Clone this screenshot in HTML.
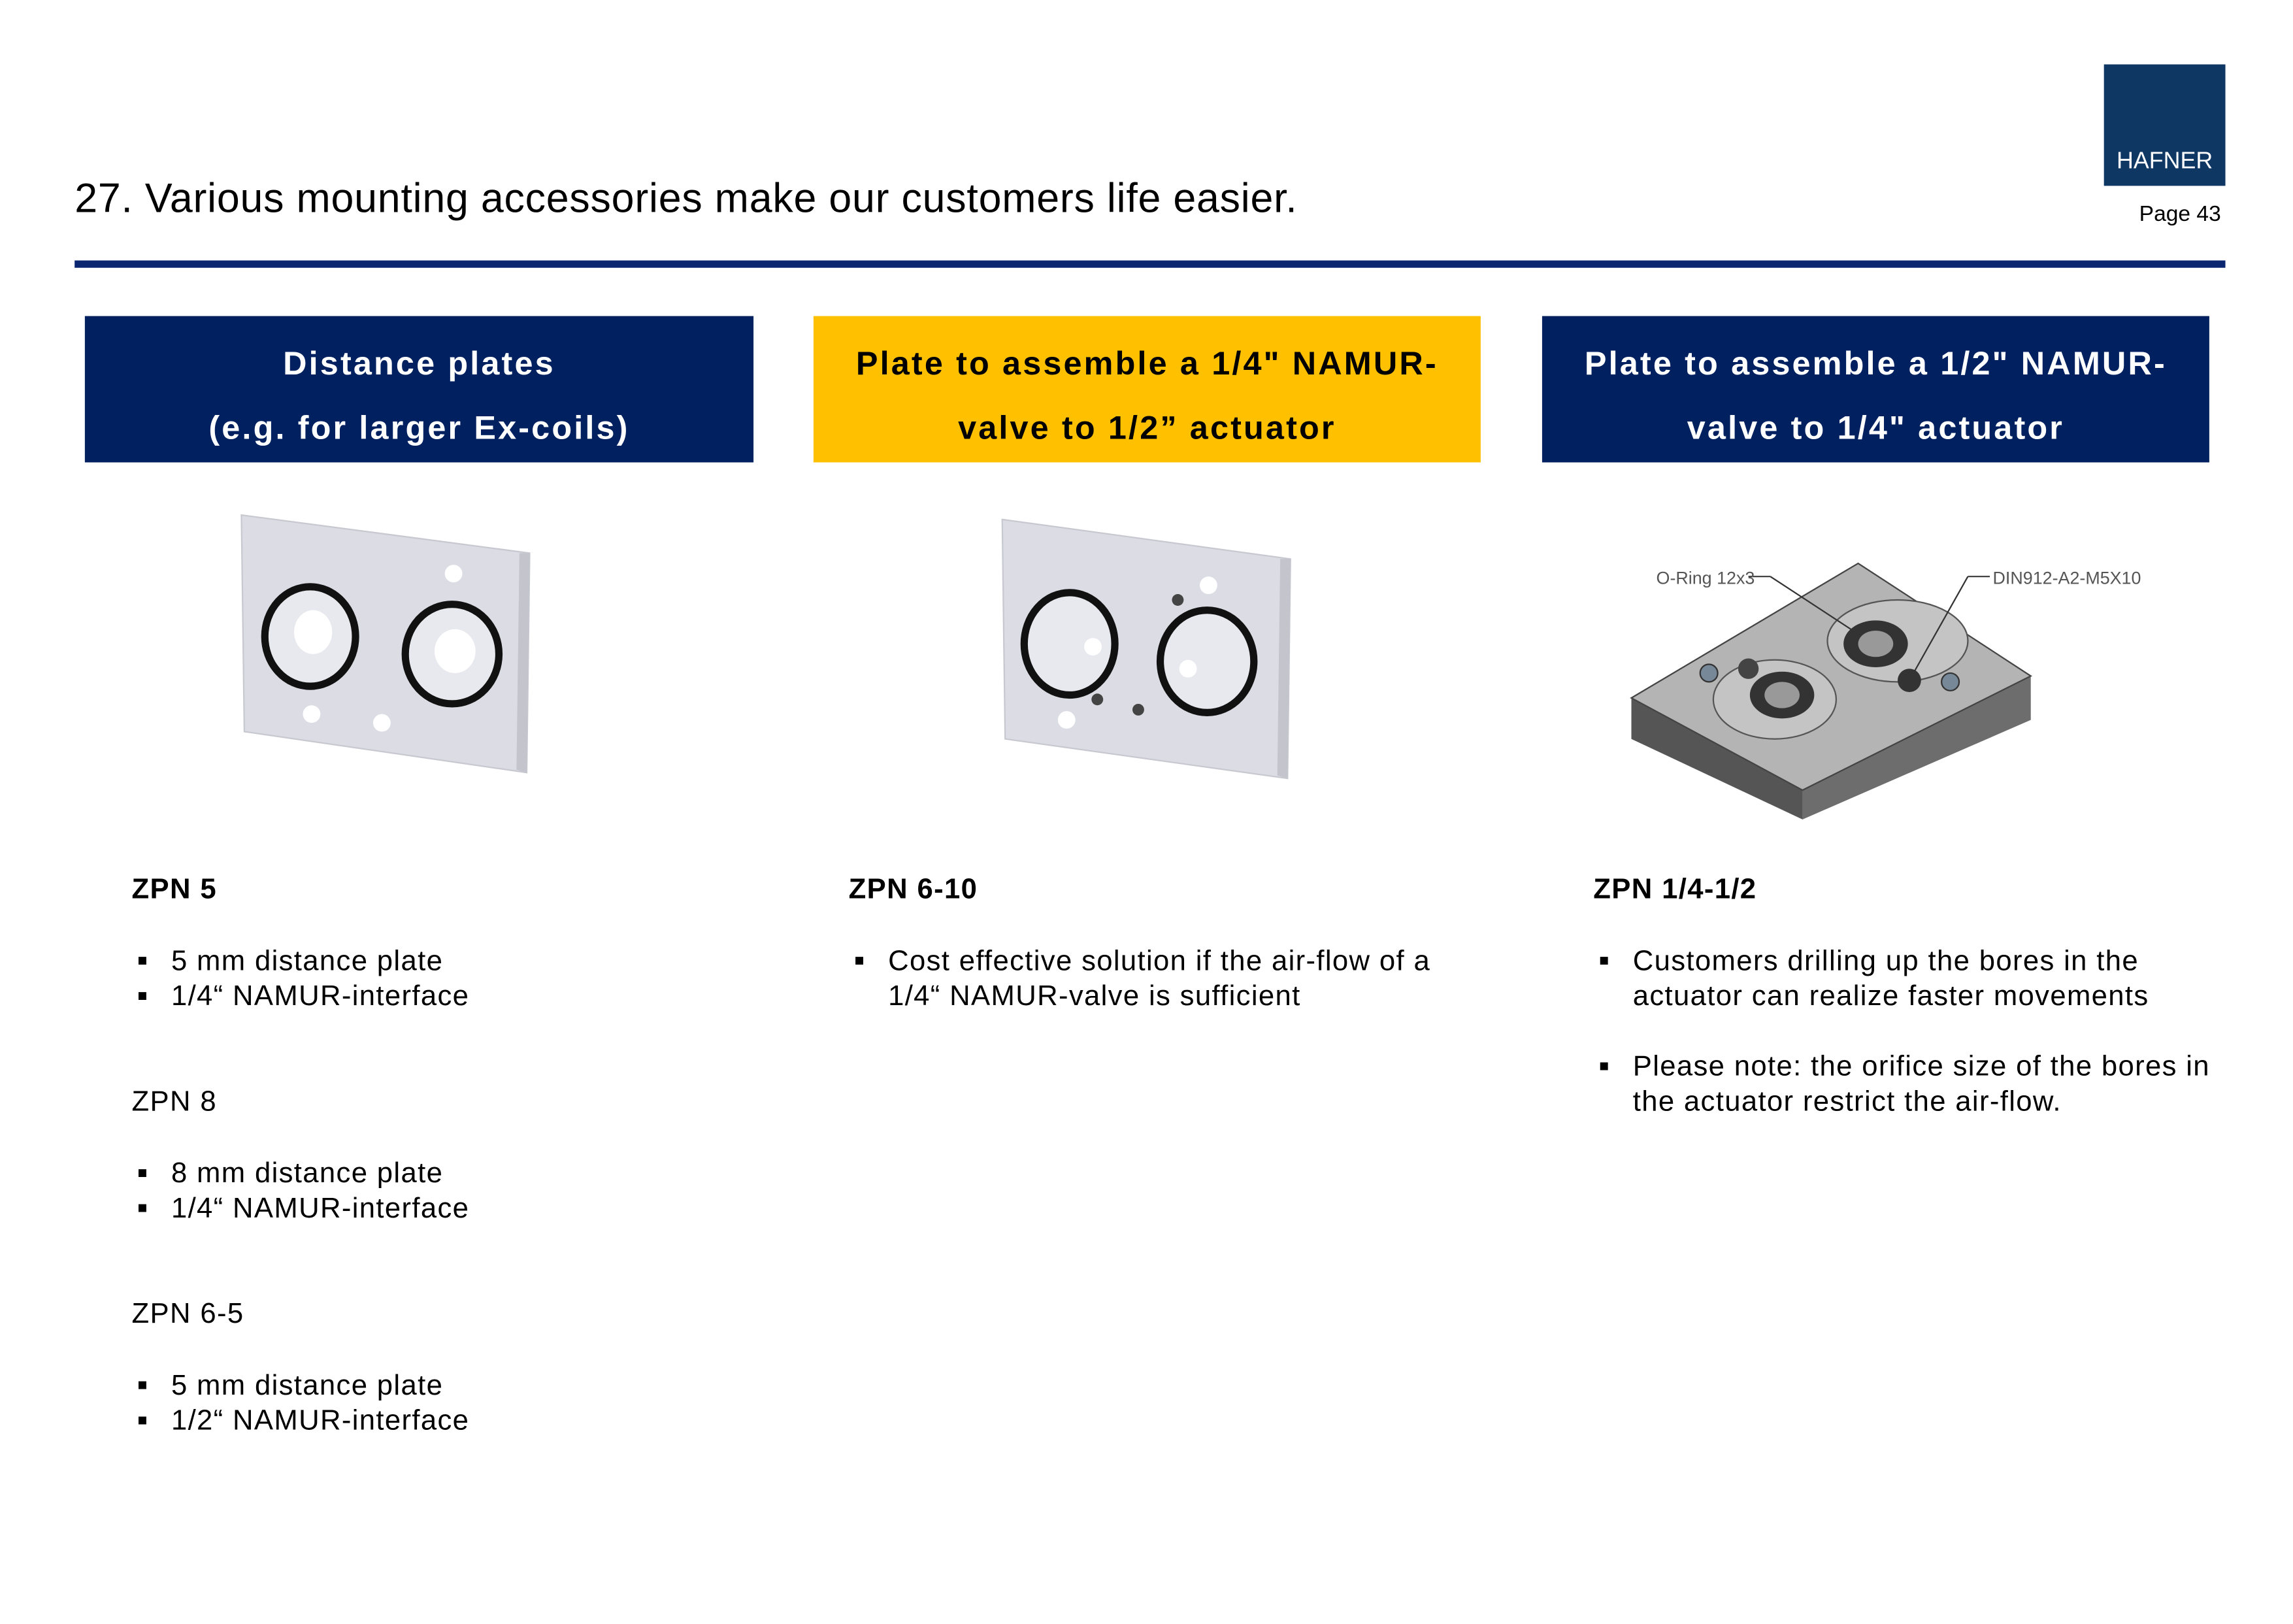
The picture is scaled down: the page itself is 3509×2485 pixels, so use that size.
<!DOCTYPE html>
<html><head><meta charset="utf-8"><style>
html,body{margin:0;padding:0;background:#fff;width:3509px;height:2481px;overflow:hidden}
#w{position:absolute;left:0;top:0;width:1570px;height:1110px;transform:scale(2.2390);transform-origin:0 0;font-family:"Liberation Sans",sans-serif;color:#000}
.a{position:absolute;white-space:nowrap}
.hb{position:absolute;top:216px;height:100px;color:#fff;font-weight:bold;font-size:22.5px;text-align:center;line-height:44px;padding-top:11px;box-sizing:border-box;letter-spacing:1.4px}
.t{position:absolute;font-size:19.5px;line-height:24px;letter-spacing:0.6px}
.b{position:absolute;font-size:19.5px;line-height:24px;letter-spacing:0.6px;white-space:nowrap}
.b span{position:absolute;left:-23px;font-size:11px}
</style></head><body><div id="w">
<div class="a" style="left:51px;top:120px;font-size:28px;letter-spacing:0.35px">27. Various mounting accessories make our customers life easier.</div>
<div class="a" style="left:1438px;top:44px;width:83px;height:83px;background:#0e3764"></div>
<div class="a" style="left:1438px;top:102px;width:83px;text-align:center;color:#fff;font-size:16px">HAFNER</div>
<div class="a" style="left:1440px;top:138px;width:78px;text-align:right;font-size:15px">Page 43</div>
<div class="a" style="left:51px;top:178px;width:1470px;height:5px;background:#0a2670"></div>

<div class="hb" style="left:58px;width:457px;background:#002060">Distance plates<br>(e.g. for larger Ex-coils)</div>
<div class="hb" style="left:556px;width:456px;background:#ffc000;color:#000">Plate to assemble a 1/4" NAMUR-<br>valve to 1/2” actuator</div>
<div class="hb" style="left:1054px;width:456px;background:#002060">Plate to assemble a 1/2" NAMUR-<br>valve to 1/4" actuator</div>

<svg class="a" style="left:0;top:0" width="1570" height="1110">
<polygon points="165,352 362,378 360,528 167,500" fill="#dcdde4" stroke="#c8c9d0"/>
<polygon points="355,378 362,378 360,528 353,526" fill="#c4c5cc"/>
<ellipse cx="212" cy="435" rx="31" ry="34" fill="#e8e9ee" stroke="#111" stroke-width="5"/>
<ellipse cx="214" cy="432" rx="13" ry="15" fill="#fff"/>
<ellipse cx="309" cy="447" rx="32" ry="34" fill="#e8e9ee" stroke="#111" stroke-width="5"/>
<ellipse cx="311" cy="445" rx="14" ry="15" fill="#fff"/>
<circle cx="310" cy="392" r="6" fill="#fff"/><circle cx="213" cy="488" r="6" fill="#fff"/><circle cx="261" cy="494" r="6" fill="#fff"/>
<polygon points="685,355 882,382 880,532 687,505" fill="#dcdde4" stroke="#c8c9d0"/>
<polygon points="875,382 882,382 880,532 873,530" fill="#c4c5cc"/>
<ellipse cx="731" cy="440" rx="31" ry="35" fill="#e8e9ee" stroke="#111" stroke-width="5"/>
<ellipse cx="825" cy="452" rx="32" ry="35" fill="#e8e9ee" stroke="#111" stroke-width="5"/>
<circle cx="747" cy="442" r="6" fill="#fff"/><circle cx="812" cy="457" r="6" fill="#fff"/>
<circle cx="826" cy="400" r="6" fill="#fff"/><circle cx="729" cy="492" r="6" fill="#fff"/>
<circle cx="805" cy="410" r="4" fill="#444"/><circle cx="750" cy="478" r="4" fill="#444"/><circle cx="778" cy="485" r="4" fill="#444"/>
<polygon points="1115,477 1232,540 1232,560 1115,505" fill="#555"/>
<polygon points="1232,540 1388,462 1388,492 1232,560" fill="#6d6d6d"/>
<polygon points="1270,385 1388,462 1232,540 1115,477" fill="#b4b4b4" stroke="#444"/>
<ellipse cx="1297" cy="438" rx="48" ry="28" fill="#c4c4c4" stroke="#555"/>
<ellipse cx="1282" cy="440" rx="22" ry="16" fill="#333"/><ellipse cx="1282" cy="440" rx="12" ry="9" fill="#999"/>
<ellipse cx="1213" cy="478" rx="42" ry="27" fill="#c4c4c4" stroke="#555"/>
<ellipse cx="1218" cy="475" rx="22" ry="16" fill="#333"/><ellipse cx="1218" cy="475" rx="12" ry="9" fill="#999"/>
<circle cx="1168" cy="460" r="6" fill="#789" stroke="#333"/><circle cx="1195" cy="457" r="7" fill="#444"/>
<circle cx="1305" cy="465" r="8" fill="#333"/><circle cx="1333" cy="466" r="6" fill="#789" stroke="#333"/>
<line x1="1195" y1="394" x2="1210" y2="394" stroke="#444"/><line x1="1210" y1="394" x2="1265" y2="430" stroke="#333"/>
<line x1="1345" y1="394" x2="1360" y2="394" stroke="#444"/><line x1="1345" y1="394" x2="1305" y2="465" stroke="#333"/>
<text x="1132" y="399" font-family="Liberation Sans Narrow,Liberation Sans,sans-serif" font-size="12" fill="#555">O-Ring 12x3</text>
<text x="1362" y="399" font-family="Liberation Sans Narrow,Liberation Sans,sans-serif" font-size="12" fill="#555">DIN912-A2-M5X10</text>
</svg>

<div class="t" style="left:90px;top:596px;font-weight:bold">ZPN 5</div>
<div class="b" style="left:117px;top:645px"><span>■</span>5 mm distance plate</div>
<div class="b" style="left:117px;top:669px"><span>■</span>1/4“ NAMUR-interface</div>
<div class="t" style="left:90px;top:741px">ZPN 8</div>
<div class="b" style="left:117px;top:790px"><span>■</span>8 mm distance plate</div>
<div class="b" style="left:117px;top:814px"><span>■</span>1/4“ NAMUR-interface</div>
<div class="t" style="left:90px;top:886px">ZPN 6-5</div>
<div class="b" style="left:117px;top:935px"><span>■</span>5 mm distance plate</div>
<div class="b" style="left:117px;top:959px"><span>■</span>1/2“ NAMUR-interface</div>

<div class="t" style="left:580px;top:596px;font-weight:bold">ZPN 6-10</div>
<div class="b" style="left:607px;top:645px"><span>■</span>Cost effective solution if the air-flow of a<br>1/4“ NAMUR-valve is sufficient</div>

<div class="t" style="left:1089px;top:596px;font-weight:bold">ZPN 1/4-1/2</div>
<div class="b" style="left:1116px;top:645px"><span>■</span>Customers drilling up the bores in the<br>actuator can realize faster movements</div>
<div class="b" style="left:1116px;top:717px"><span>■</span>Please note: the orifice size of the bores in<br>the actuator restrict the air-flow.</div>
</div></body></html>
